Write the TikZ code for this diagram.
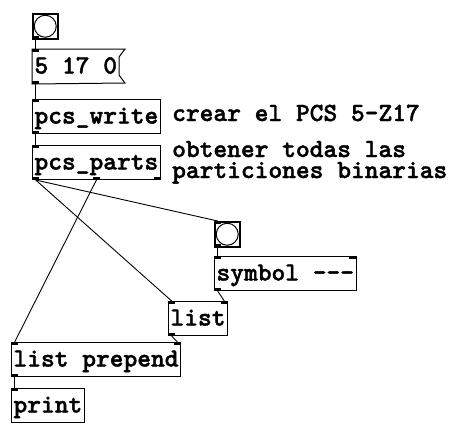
\documentclass[tikz,border=0pt]{standalone}
\usepackage{fontspec}
\newfontfamily\pdfont{lmmonolt10-bold.otf}[FakeBold=1.5]
\begin{document}
\begin{tikzpicture}[x=1pt,y=-1pt]
	\tikzset{obj/.style = {draw, line width=1pt, anchor=north west, inner xsep=2pt, inner ysep=0pt, minimum height=34pt, text height=17pt, text depth=3pt, font=\pdfont\fontsize{26.2}{26}\selectfont},
		bang/.style = {draw, line width=1.5pt, anchor=north west, inner sep=0pt, minimum size=25pt},
		port/.style = {fill, inner sep=0pt, minimum width=7pt, minimum height=3pt},
		note/.style = {anchor=base west, inner sep=0pt, align=left, font=\pdfont\fontsize{26.2}{21}\selectfont},
		wire/.style = {line width=0.9pt}}
	
	\useasboundingbox (0,0) rectangle (451,424);
	
	\node[bang] (b1) at (32,13) {};
	\draw[line width=1pt] (b1.center) circle (11pt);
	\node[port, anchor=south west] (b1-o) at (b1.south west) {};
	
	\node[obj, draw=none] (msg) at (32,49) {5 17 0};
	\draw[line width=1pt] (msg.north west) -- ++(93,0) -- ++(-6,8) -- ++(0,18) -- ++(6,8) -- (msg.south west) -- cycle;
	\node[port, anchor=north west] (msg-i) at (msg.north west) {};
	\node[port, anchor=south west] (msg-o) at (msg.south west) {};
	
	\node[obj] (write) at (32,99) {pcs\_write};
	\node[port, anchor=north west] (write-i) at (write.north west) {};
	\node[port, anchor=south west] (write-o) at (write.south west) {};
	\node[note] (label_write) at (172,121) {crear el PCS 5-Z17};
	
	\node[obj] (parts) at (32,145) {pcs\_parts};
	\node[port, anchor=north west] (parts-i) at (parts.north west) {};
	\node[port, anchor=south west] (parts-o1) at (parts.south west) {};
	\node[port, anchor=south] (parts-o2) at (parts.south) {};
	\node[port, anchor=south east] (parts-o3) at (parts.south east) {};
	\node[note] (label_parts) at (172,178) {obtener todas las\\particiones binarias};
	
	\node[bang] (b2) at (214,221) {};
	\draw[line width=1pt] (b2.center) circle (11pt);
	\node[port, anchor=north west] (b2-i) at (b2.north west) {};
	\node[port, anchor=south west] (b2-o) at (b2.south west) {};
	
	\node[obj] (sym) at (214,256) {symbol ---};
	\node[port, anchor=north west] (sym-i1) at (sym.north west) {};
	\node[port, anchor=north east] (sym-i2) at (sym.north east) {};
	\node[port, anchor=south west] (sym-o) at (sym.south west) {};
	
	\node[obj] (list) at (168,301) {list};
	\node[port, anchor=north west] (list-i1) at (list.north west) {};
	\node[port, anchor=north east] (list-i2) at (list.north east) {};
	\node[port, anchor=south west] (list-o) at (list.south west) {};
	
	\node[obj] (prep) at (11,342) {list prepend};
	\node[port, anchor=north west] (prep-i1) at (prep.north west) {};
	\node[port, anchor=north east] (prep-i2) at (prep.north east) {};
	\node[port, anchor=south west] (prep-o) at (prep.south west) {};
	
	\node[obj] (print) at (11,388) {print};
	\node[port, anchor=north west] (print-i) at (print.north west) {};
	
	\draw[wire] (b1-o.south) to (msg-i.north);
	\draw[wire] (msg-o.south) to (write-i.north);
	\draw[wire] (write-o.south) to (parts-i.north);
	\draw[wire] (parts-o1.south) to (b2-i.north);
	\draw[wire] (parts-o1.south) to (list-i1.north);
	\draw[wire] (parts-o2.south) to (prep-i1.north);
	\draw[wire] (b2-o.south) to (sym-i1.north);
	\draw[wire] (sym-o.south) to (list-i2.north);
	\draw[wire] (list-o.south) to (prep-i2.north);
	\draw[wire] (prep-o.south) to (print-i.north);
	
\end{tikzpicture}
\end{document}
